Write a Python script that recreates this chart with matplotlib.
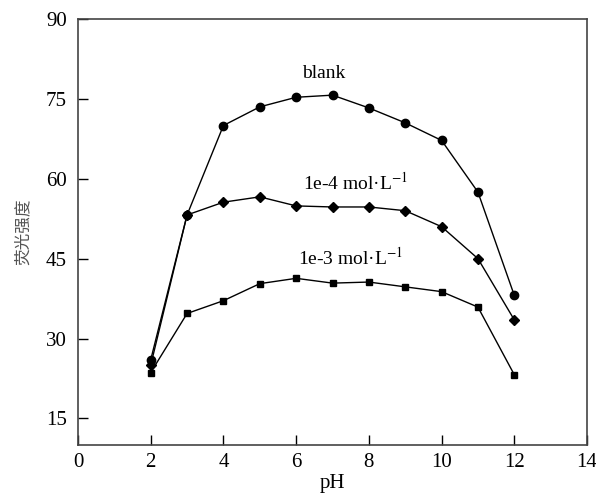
import matplotlib
matplotlib.use("Agg")
import matplotlib.pyplot as plt

# pH values and fluorescence intensity for each condition
ph = [2, 3, 4, 5, 6, 7, 8, 9, 10, 11, 12]
blank = [26.0, 53.2, 70.0, 73.5, 75.3, 75.7, 73.3, 70.5, 67.2, 57.5, 38.1]
c_1e4 = [25.0, 53.2, 55.6, 56.6, 54.9, 54.7, 54.7, 54.0, 51.0, 45.0, 33.5]
c_1e3 = [23.6, 34.7, 37.1, 40.3, 41.3, 40.4, 40.6, 39.7, 38.8, 35.9, 23.2]

labels = ["blank", "1e-4 mol\u00b7L$^{-1}$", "1e-3 mol\u00b7L$^{-1}$"]
label_pos = [(6.75, 79.8), (7.63, 59.3), (7.5, 45.2)]

xticks = [0, 2, 4, 6, 8, 10, 12, 14]
yticks = [15, 30, 45, 60, 75, 90]

plt.rcParams['font.family'] = ['Liberation Serif', 'DejaVu Serif']
plt.rcParams['mathtext.fontset'] = 'stix'

fig = plt.figure(figsize=(5.96, 4.95), dpi=100)
ax = fig.add_axes([78 / 596, 1 - 445 / 495, (587 - 78) / 596, (445 - 19) / 495])

ax.plot(ph, blank, '-o', color='black', lw=1, markersize=6)
ax.plot(ph, c_1e4, '-D', color='black', lw=1, markersize=5)
ax.plot(ph, c_1e3, '-s', color='black', lw=1, markersize=5)

for text, (x, y) in zip(labels, label_pos):
    ax.text(x, y, text, ha='center', va='center', fontsize=14)

ax.set_xlim(0, 14)
ax.set_ylim(10, 90)
ax.set_xticks(xticks)
ax.set_yticks(yticks)
ax.tick_params(axis='both', direction='in', length=7, width=1, labelsize=15)
ax.tick_params(axis='x', pad=6)
ax.tick_params(axis='y', pad=8)
for s in ax.spines.values():
    s.set_color('#444444')
    s.set_linewidth(1.2)

ax.set_xlabel('pH', fontsize=15, labelpad=1)
ax.set_ylabel('荧光强度', fontsize=12, color='#555555',
              family=['Noto Sans CJK SC', 'DejaVu Sans'], labelpad=10)

fig.savefig('out.png', dpi=100)
